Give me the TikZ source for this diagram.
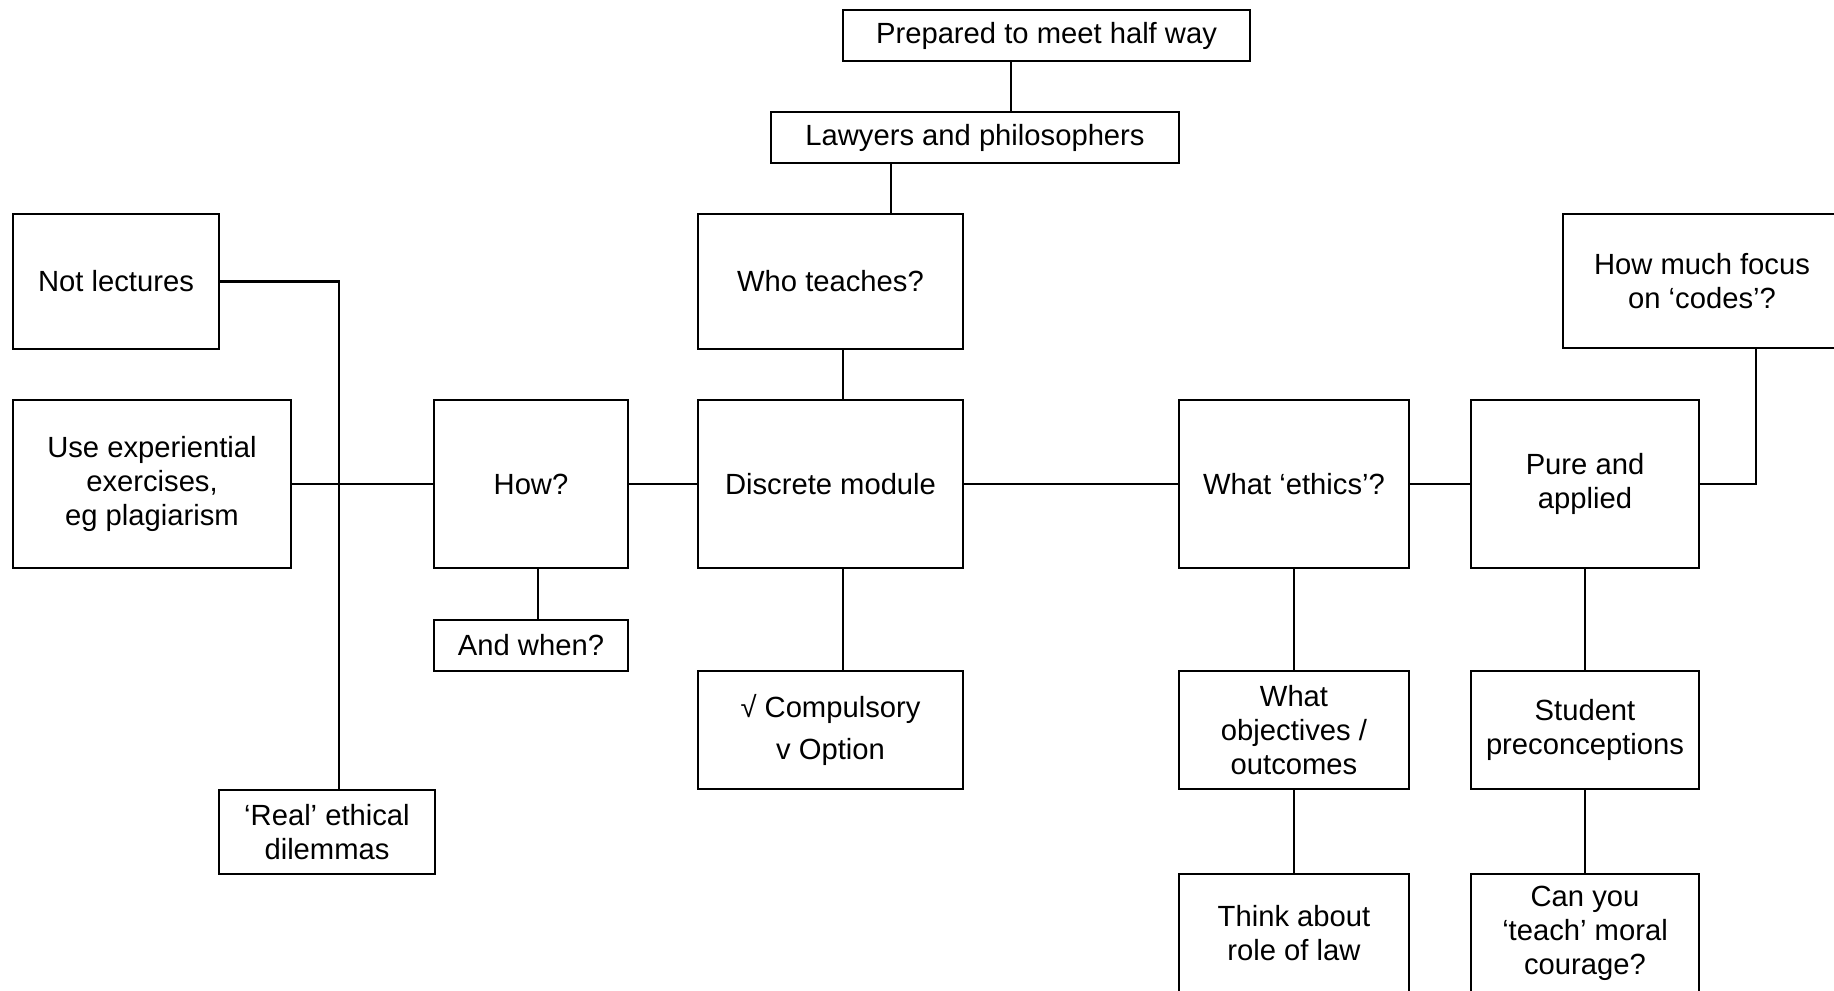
\documentclass[tikz,border=0pt]{standalone}
\usepackage{fontspec}
\setmainfont{Liberation Sans}
\begin{document}
\begin{tikzpicture}[x=0.5pt, y=-0.5pt,
                    topic/.style={draw, line width=1.4pt, align=center, inner sep=0pt,
                                  font=\fontsize{14.6pt}{17pt}\selectfont},
                    link/.style={line width=1.3pt}]
  \useasboundingbox (0,0) rectangle (1834,990);
  % top of the middle column
  \node[topic, minimum width=203.5pt, minimum height=25.5pt] (halfway) at (1046.5,35.5) {Prepared to meet half way};
  \node[topic, minimum width=204pt, minimum height=25.5pt] (lawyers) at (975,137.5) {Lawyers and philosophers};
  \node[topic, minimum width=132.5pt, minimum height=67.5pt] (who) at (830.5,281.5) {Who teaches?};
  \node[topic, minimum width=132.5pt, minimum height=84pt] (module) at (830.5,484) {Discrete module};
  \node[topic, minimum width=132.5pt, minimum height=59pt] (compulsory) at (830.5,730) {√ Compulsory\\[4pt]v Option};
  % left side
  \node[topic, minimum width=97pt, minimum height=84pt] (how) at (531,484) {How?};
  \node[topic, minimum width=97pt, minimum height=25.5pt] (when) at (531,645.5) {And when?};
  \node[topic, minimum width=139pt, minimum height=84pt] (experiential) at (152,484) {Use experiential\\exercises,\\eg plagiarism};
  \node[topic, minimum width=103pt, minimum height=67.5pt] (lectures) at (116,281.5) {Not lectures};
  \node[topic, minimum width=108pt, minimum height=42pt] (dilemmas) at (327,832) {‘Real’ ethical\\dilemmas};
  % right side
  \node[topic, minimum width=115pt, minimum height=84pt] (ethics) at (1294,484) {What ‘ethics’?};
  \node[topic, minimum width=114pt, minimum height=84pt] (pure) at (1585,484) {Pure and\\applied};
  \node[topic, minimum width=139pt, minimum height=67pt] (codes) at (1702,281) {How much focus\\on ‘codes’?};
  \node[topic, minimum width=115pt, minimum height=59pt] (objectives) at (1294,730) {What\\objectives /\\outcomes};
  \node[topic, minimum width=114pt, minimum height=59pt] (preconceptions) at (1585,730) {Student\\preconceptions};
  \node[topic, minimum width=115pt, minimum height=59pt] (law) at (1294,933) {Think about\\role of law};
  \node[topic, minimum width=114pt, minimum height=59pt] (courage) at (1585,933) {Can you\\‘teach’ moral\\courage?};

  % connectors
  \draw[link] (1011,0 |- halfway.south) -- (1011,0 |- lawyers.north);
  \draw[link] (891,0 |- lawyers.south) -- (891,0 |- who.north);
  \draw[link] (843,0 |- who.south) -- (843,0 |- module.north);
  \draw[link] (843,0 |- module.south) -- (843,0 |- compulsory.north);
  \draw[link] (538,0 |- how.south) -- (538,0 |- when.north);
  \draw[link] (experiential.east) -- (how.west);
  \draw[link] (lectures.east) -| (339,0 |- dilemmas.north);
  \draw[link] (how.east) -- (module.west);
  \draw[link] (module.east) -- (ethics.west);
  \draw[link] (ethics.east) -- (pure.west);
  \draw[link] (pure.east) -| (1756,0 |- codes.south);
  \draw[link] (ethics.south) -- (objectives.north);
  \draw[link] (objectives.south) -- (law.north);
  \draw[link] (pure.south) -- (preconceptions.north);
  \draw[link] (preconceptions.south) -- (courage.north);
\end{tikzpicture}
\end{document}
